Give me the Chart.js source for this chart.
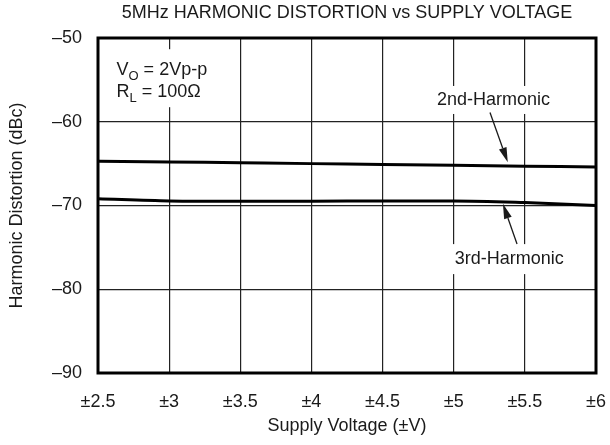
<!DOCTYPE html>
<html>
<head>
<meta charset="utf-8">
<script src="https://cdn.jsdelivr.net/npm/chart.js@4.4.1/dist/chart.umd.min.js"></script>
<style>
  html, body { margin: 0; padding: 0; background: #fff; }
  #wrap { width: 610px; height: 445px; }
</style>
</head>
<body>
<div id="wrap"><canvas id="chart" width="610" height="445"></canvas></div>
<script>
// data
const voltages = [2.5, 3, 3.5, 4, 4.5, 5, 5.5, 6];
const secondHarmonic = [-64.7, -64.8, -64.9, -65.0, -65.1, -65.2, -65.3, -65.4];
const thirdHarmonic = [-69.2, -69.45, -69.5, -69.5, -69.45, -69.45, -69.65, -70.0];
const yTicks = [-90, -80, -70, -60, -50];

const FONT = '"Liberation Sans", Arial, Helvetica, sans-serif';
const INK = '#1a1a1a';
const FS = 18;

function toPoints(ys) {
    return voltages.map((v, i) => ({ x: v, y: ys[i] }));
}

// text notes and arrows, drawn on top of the grid
const notesPlugin = {
    id: 'notes',
    beforeDatasetsDraw(chart) {
        const { ctx, scales: { x, y } } = chart;
        ctx.save();

        // white patches so the grid breaks behind the labels
        ctx.fillStyle = '#fff';
        const box = (cx, cy, w, h) => ctx.fillRect(x.getPixelForValue(cx) - w / 2, y.getPixelForValue(cy) - h / 2, w, h);
        box(3.08, -54.8, 116, 58);
        box(5.28, -57.4, 126, 28);
        box(5.39, -76.4, 126, 30);

        ctx.fillStyle = INK;
        ctx.textBaseline = 'alphabetic';
        ctx.textAlign = 'left';

        // V_O = 2Vp-p
        let px = x.getPixelForValue(2.63), py = y.getPixelForValue(-54.4);
        ctx.font = FS + 'px ' + FONT;
        ctx.fillText('V', px, py);
        let w = ctx.measureText('V').width;
        ctx.font = '13px ' + FONT;
        ctx.fillText('O', px + w, py + 5);
        let w2 = ctx.measureText('O').width;
        ctx.font = FS + 'px ' + FONT;
        ctx.fillText(' = 2Vp-p', px + w + w2, py);

        // R_L = 100Ω
        py = y.getPixelForValue(-57.0);
        ctx.fillText('R', px, py);
        w = ctx.measureText('R').width;
        ctx.font = '13px ' + FONT;
        ctx.fillText('L', px + w, py + 5);
        w2 = ctx.measureText('L').width;
        ctx.font = FS + 'px ' + FONT;
        ctx.fillText(' = 100Ω', px + w + w2, py);

        ctx.textAlign = 'center';
        ctx.textBaseline = 'middle';
        ctx.fillText('2nd-Harmonic', x.getPixelForValue(5.28), y.getPixelForValue(-57.4));
        ctx.fillText('3rd-Harmonic', x.getPixelForValue(5.39), y.getPixelForValue(-76.4));
        ctx.restore();
    },
    afterDraw(chart) {
        const { ctx, chartArea, scales: { x, y } } = chart;
        ctx.save();

        const arrow = (x0, y0, x1, y1) => {
            const ax = x.getPixelForValue(x0), ay = y.getPixelForValue(y0);
            const bx = x.getPixelForValue(x1), by = y.getPixelForValue(y1);
            const ang = Math.atan2(by - ay, bx - ax);
            const len = 15, half = 4;
            const hx = bx - len * Math.cos(ang), hy = by - len * Math.sin(ang);
            ctx.strokeStyle = INK;
            ctx.lineWidth = 1.3;
            ctx.beginPath();
            ctx.moveTo(ax, ay);
            ctx.lineTo(hx, hy);
            ctx.stroke();
            ctx.fillStyle = INK;
            ctx.beginPath();
            ctx.moveTo(bx, by);
            ctx.lineTo(hx + half * Math.sin(ang), hy - half * Math.cos(ang));
            ctx.lineTo(hx - half * Math.sin(ang), hy + half * Math.cos(ang));
            ctx.closePath();
            ctx.fill();
        };
        arrow(5.255, -58.9, 5.38, -64.85);
        arrow(5.445, -74.6, 5.346, -69.8);

        // plot frame
        ctx.strokeStyle = '#000';
        ctx.lineWidth = 3;
        ctx.strokeRect(chartArea.left, chartArea.top, chartArea.right - chartArea.left, chartArea.bottom - chartArea.top);

        // chart title, centred over the plot
        ctx.fillStyle = INK;
        ctx.font = FS + 'px ' + FONT;
        ctx.textAlign = 'center';
        ctx.textBaseline = 'middle';
        ctx.fillText('5MHz HARMONIC DISTORTION vs SUPPLY VOLTAGE', (chartArea.left + chartArea.right) / 2, 13);
        ctx.restore();
    }
};

new Chart(document.getElementById('chart'), {
    type: 'line',
    data: {
        datasets: [
            {
                label: '2nd-Harmonic',
                data: toPoints(secondHarmonic),
                borderColor: '#000',
                borderWidth: 3,
                pointRadius: 0,
                cubicInterpolationMode: 'monotone'
            },
            {
                label: '3rd-Harmonic',
                data: toPoints(thirdHarmonic),
                borderColor: '#000',
                borderWidth: 3,
                pointRadius: 0,
                cubicInterpolationMode: 'monotone'
            }
        ]
    },
    options: {
        responsive: false,
        animation: false,
        events: [],
        layout: { padding: { top: 38, right: 14, left: 0, bottom: 0 } },
        plugins: {
            legend: { display: false },
            title: { display: false },
            tooltip: { enabled: false }
        },
        scales: {
            x: {
                type: 'linear',
                min: 2.5,
                max: 6,
                afterFit: s => { s.height = 72; s.paddingLeft = 0; s.paddingRight = 0; },
                afterBuildTicks: s => { s.ticks = voltages.map(v => ({ value: v })); },
                grid: { color: '#222', lineWidth: 1.2, drawTicks: false },
                border: { display: false },
                ticks: {
                    padding: 18,
                    maxRotation: 0,
                    color: INK,
                    font: { family: FONT, size: FS },
                    callback: v => '±' + v
                },
                title: {
                    display: true,
                    text: 'Supply Voltage (±V)',
                    color: INK,
                    font: { family: FONT, size: FS },
                    padding: { top: 0, bottom: 8 }
                }
            },
            y: {
                min: -90,
                max: -50,
                afterFit: s => { s.width = 98; s.paddingTop = 0; s.paddingBottom = 0; },
                afterBuildTicks: s => { s.ticks = yTicks.map(v => ({ value: v })); },
                grid: { color: '#222', lineWidth: 1.2, drawTicks: false },
                border: { display: false },
                ticks: {
                    padding: 16,
                    color: INK,
                    font: { family: FONT, size: FS },
                    callback: v => '–' + Math.abs(v)
                },
                title: {
                    display: true,
                    text: 'Harmonic Distortion (dBc)',
                    color: INK,
                    font: { family: FONT, size: FS },
                    padding: { top: 6, bottom: 0 }
                }
            }
        }
    },
    plugins: [notesPlugin]
});
</script>
</body>
</html>
